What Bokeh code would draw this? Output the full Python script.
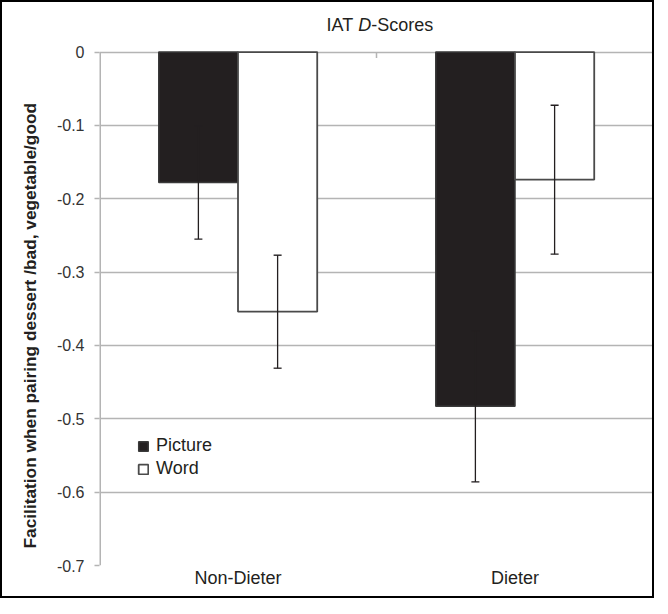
from bokeh.plotting import figure
from bokeh.models import (ColumnDataSource, FactorRange, FixedTicker, Legend,
                          LegendItem, Range1d, Title)
from bokeh.transform import dodge
from bokeh.core.properties import value
from bokeh.embed import file_html
from bokeh.resources import INLINE

# ---- data ----
groups = ["Non-Dieter", "Dieter"]
picture = [-0.178, -0.483]
word = [-0.354, -0.174]
picture_err = [0.077, 0.103]
word_err = [0.077, 0.1015]
y_ticks = [0, -0.1, -0.2, -0.3, -0.4, -0.5, -0.6, -0.7]
y_tick_labels = ["0", "-0.1", "-0.2", "-0.3", "-0.4", "-0.5", "-0.6", "-0.7"]
title_parts = ["IAT", "D", "-Scores"]
y_label = "Facilitation when pairing dessert /bad, vegetable/good"
series_names = ["Picture", "Word"]

FONT = "Liberation Sans"
DARK = "#231f20"
GRID = "#b4b4b4"

src = ColumnDataSource(dict(
    g=groups,
    pic=picture,
    wrd=word,
    pic_lo=[m - e for m, e in zip(picture, picture_err)],
    pic_hi=[m + e for m, e in zip(picture, picture_err)],
    wrd_lo=[m - e for m, e in zip(word, word_err)],
    wrd_hi=[m + e for m, e in zip(word, word_err)],
))

# layout (pixels); the 2px border is drawn over the canvas edge
W, H = 654, 598
TOP, BOTTOM, LEFT, RIGHT = 7, 35, 97, 3
frame_h = H - TOP - BOTTOM
y_min = y_ticks[-1]
px_per_unit = 733.5
y_top = y_min + frame_h / px_per_unit      # room above 0 for the title

p = figure(width=W, height=H, x_range=FactorRange(*groups, range_padding=0, factor_padding=0),
           y_range=Range1d(y_min, y_top), output_backend="svg", toolbar_location=None,
           min_border_left=LEFT, min_border_right=RIGHT, min_border_top=TOP,
           min_border_bottom=BOTTOM)
p.styles = {"border": "2px solid black", "box-sizing": "border-box"}
p.outline_line_color = None
p.background_fill_color = "white"
p.border_fill_color = "white"

bw = 0.286
r_pic = p.vbar(x=dodge("g", -bw / 2, range=p.x_range), top="pic", bottom=0, width=bw,
               source=src, fill_color=DARK, line_color="#3a3a3a", line_width=1.5)
r_wrd = p.vbar(x=dodge("g", bw / 2, range=p.x_range), top="wrd", bottom=0, width=bw,
               source=src, fill_color="white", line_color="#4a4a4a", line_width=1.8)

# error bars
for off, lo, hi in [(-bw / 2, "pic_lo", "pic_hi"), (bw / 2, "wrd_lo", "wrd_hi")]:
    xx = dodge("g", off, range=p.x_range)
    p.segment(x0=xx, x1=xx, y0=lo, y1=hi, source=src, line_color=DARK, line_width=1.3)
    p.scatter(x=xx, y=lo, marker="dash", size=8, source=src, line_color=DARK, line_width=1.3)
    p.scatter(x=xx, y=hi, marker="dash", size=8, source=src, line_color=DARK, line_width=1.3)

# category axis at y=0: inward ticks at category boundaries
bx = dodge("g", 0.5, range=p.x_range)
p.segment(x0=bx, x1=bx, y0=y_ticks[0], y1=y_ticks[0] - 0.0082, source=src,
          line_color=GRID, line_width=1.5)

# value axis line from y_min to 0 at the left edge of the frame
first = ColumnDataSource(dict(g=groups[:1]))
lx = dodge("g", -0.5, range=p.x_range)
p.segment(x0=lx, x1=lx, y0=y_min, y1=y_ticks[0], source=first, line_color=GRID, line_width=3)

# title (with italic D)
tsrc = ColumnDataSource(dict(g=groups[:1], t0=[title_parts[0]], t1=[title_parts[1]],
                             t2=[title_parts[2]]))
ty = 0.037
tx = -0.004
p.text(x=dodge("g", 0.420 + tx, range=p.x_range), y=ty, text="t0", source=tsrc,
       text_align="right", text_baseline="alphabetic", text_font=value(FONT),
       text_font_size=value("18px"), text_color=DARK)
p.text(x=dodge("g", 0.4617 + tx, range=p.x_range), y=ty, text="t1", source=tsrc,
       text_align="center", text_baseline="alphabetic", text_font=value(FONT),
       text_font_style="italic", text_font_size=value("18px"), text_color=DARK)
p.text(x=dodge("g", 0.485 + tx, range=p.x_range), y=ty, text="t2", source=tsrc,
       text_align="left", text_baseline="alphabetic", text_font=value(FONT),
       text_font_size=value("18px"), text_color=DARK)

# grid
p.xgrid.visible = False
p.ygrid.ticker = FixedTicker(ticks=y_ticks)
p.ygrid.grid_line_color = GRID
p.ygrid.grid_line_width = 1.5

# y axis
ya = p.yaxis[0]
ya.ticker = FixedTicker(ticks=y_ticks)
ya.major_label_overrides = {t: s for t, s in zip(y_ticks, y_tick_labels)}
ya.axis_line_color = None
ya.major_tick_line_color = GRID
ya.major_tick_line_width = 1.5
ya.major_tick_in = 0
ya.major_tick_out = 5
ya.minor_tick_line_color = None
ya.major_label_standoff = 10
ya.major_label_text_font = FONT
ya.major_label_text_font_size = "16px"
ya.major_label_text_color = "#333333"

# y axis title, placed from the bottom of the frame
p.add_layout(Title(text=y_label, align="left", offset=17, standoff=28,
                   text_font=FONT, text_font_style="bold", text_font_size="17.3px",
                   text_color=DARK), "left")

# x axis
xa = p.xaxis[0]
xa.axis_line_color = None
xa.major_tick_line_color = None
xa.minor_tick_line_color = None
xa.major_tick_in = 0
xa.major_tick_out = 0
xa.major_label_standoff = 2
xa.major_label_text_font = FONT
xa.major_label_text_font_size = "18px"
xa.major_label_text_color = DARK

legend = Legend(items=[LegendItem(label=series_names[0], renderers=[r_pic]),
                       LegendItem(label=series_names[1], renderers=[r_wrd])],
                location=(38, 86), padding=0, margin=0, spacing=2, label_standoff=7,
                glyph_width=12, glyph_height=12, border_line_color=None,
                background_fill_alpha=0, label_text_font=FONT, label_text_font_size="18px",
                label_text_color=DARK)
p.add_layout(legend, "center")

open("out.html", "w").write(file_html(p, INLINE))
